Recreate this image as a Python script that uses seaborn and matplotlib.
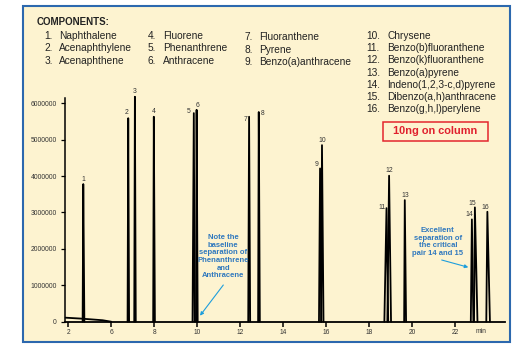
import matplotlib
matplotlib.use("Agg")
import matplotlib.pyplot as plt
from matplotlib.patches import Rectangle
import numpy as np
import pandas as pd
import seaborn as sns

# ---------------- data ----------------
peak_ids = ["1", "2", "3", "4", "5", "6", "7", "8", "9", "10",
            "11", "12", "13", "14", "15", "16"]
peak_time = [4.70, 6.79, 7.10, 7.98, 9.84, 9.97, 12.41, 12.86, 15.71, 15.80,
             18.80, 18.92, 19.65, 22.77, 22.91, 23.49]
peak_height = [3.78e6, 5.59e6, 6.18e6, 5.63e6, 5.73e6, 5.82e6, 5.63e6, 5.76e6,
               4.21e6, 4.85e6, 3.12e6, 4.01e6, 3.34e6, 2.81e6, 3.14e6, 3.02e6]
peak_start = [4.67, 6.76, 7.07, 7.95, 9.78, 9.94, 12.37, 12.83, 15.66, 15.76,
              18.70, 18.84, 19.62, 22.72, 22.87, 23.44]
peak_end = [4.75, 6.83, 7.14, 8.03, 9.88, 10.02, 12.46, 12.91, 15.77, 15.87,
            18.88, 19.01, 19.71, 22.84, 23.03, 23.61]
baseline_time = [3.88, 4.60, 5.60, 6.00]
baseline_signal = [110000, 85000, 40000, 0]

components_1 = ["Naphthalene", "Acenaphthylene", "Acenaphthene"]
components_2 = ["Fluorene", "Phenanthrene", "Anthracene"]
components_3 = ["Fluoranthene", "Pyrene", "Benzo(a)anthracene"]
components_4 = ["Chrysene", "Benzo(b)fluoranthene", "Benzo(k)fluoranthene",
                "Benzo(a)pyrene", "Indeno(1,2,3-c,d)pyrene",
                "Dibenzo(a,h)anthracene", "Benzo(g,h,l)perylene"]

x_ticks = [4, 6, 8, 10, 12, 14, 16, 18, 20, 22]
x_tick_labels = ["2", "6", "8", "10", "12", "14", "16", "18", "20", "22"]
y_ticks = [0, 1000000, 2000000, 3000000, 4000000, 5000000, 6000000]

# ---------------- build table ----------------
rows = []
for pid, t0, t, t1, h in zip(peak_ids, peak_start, peak_time, peak_end, peak_height):
    rows += [(pid, t0, 0.0), (pid, t, h), (pid, t1, 0.0)]
for t, s in zip(baseline_time, baseline_signal):
    rows.append(("base", t, s))
df = pd.DataFrame(rows, columns=["peak", "time", "signal"])

# ---------------- figure ----------------
W, H = 520, 344
sns.set_theme(style="white")
plt.rcParams["font.family"] = ["Liberation Sans", "DejaVu Sans"]

fig = plt.figure(figsize=(W / 100, H / 100), dpi=100)
fig.patch.set_facecolor("white")

def fx(x):
    return x / W

def fy(y):
    return 1 - y / H

BG = "#FDF3D0"
panel = Rectangle((fx(23.3), fy(342)), fx(509.5) - fx(23.3), fy(5.7) - fy(342),
                  transform=fig.transFigure, facecolor=BG, edgecolor="#2C68AE",
                  linewidth=1.5, zorder=-5)
fig.patches.append(panel)

ax = fig.add_axes([fx(65), fy(321.7), fx(505) - fx(65), fy(98.3) - fy(321.7)])
ax.set_facecolor("none")
ax.set_zorder(2)

sns.lineplot(data=df, x="time", y="signal", units="peak", estimator=None,
             sort=False, color="black", linewidth=1.3, ax=ax, legend=False)
for ln in ax.lines:
    ln.set_clip_on(False)

ax.set_xlim(3.85, 24.31)
ax.set_ylim(0, 6.137e6)
ax.set_xlabel("")
ax.set_ylabel("")
for s in ["top", "right"]:
    ax.spines[s].set_visible(False)
ax.spines["left"].set_color("black")
ax.spines["left"].set_linewidth(1.1)
ax.spines["bottom"].set_color("black")
ax.spines["bottom"].set_linewidth(1.3)

ax.set_xticks(x_ticks)
ax.set_xticklabels(x_tick_labels)
ax.set_yticks(y_ticks)
ax.set_yticklabels([str(v) for v in y_ticks])
ax.tick_params(axis="x", bottom=True, length=3.6, width=1.1, color="black",
               pad=2.0, labelsize=4.8, labelcolor="#333333")
ax.tick_params(axis="y", left=True, length=2.9, width=0.9, color="black",
               pad=3.0, labelsize=4.9, labelcolor="#333333")

# peak labels (offsets in points)
label_dx = [0, -1.0, 0, 0, -3.6, 0.7, -2.9, 2.9, -2.4, 0, -3.2, 0, 0, -2.2, -1.9, -1.4]
label_dy = [3.4, 4.0, 3.9, 4.1, 1.2, 3.1, -1.9, -1.4, 2.9, 3.6, 0.5, 4.1, 3.6, 3.6, 2.9, 3.2]
for pid, t, h, dx, dy in zip(peak_ids, peak_time, peak_height, label_dx, label_dy):
    ax.annotate(pid, xy=(t, h), xytext=(dx, dy), textcoords="offset points",
                ha="center", va="center", fontsize=4.9, color="#333333",
                annotation_clip=False)

fig.text(fx(475.7), fy(331.7), "min", ha="left", va="center", fontsize=4.8,
         color="#333333")

# components legend
txt_col = "#222222"
fig.text(fx(36.7), fy(22.3), "COMPONENTS:", fontsize=7, fontweight="bold",
         color=txt_col, ha="left", va="center")
cols = [(components_1, 1, 44.3, 59.3, 36.0),
        (components_2, 4, 147.7, 163.3, 36.0),
        (components_3, 7, 244.5, 258.7, 37.5),
        (components_4, 10, 366.0, 387.3, 35.7)]
for names, start, xn, xt, y0 in cols:
    for i, nm in enumerate(names):
        yy = y0 + i * 12.27
        fig.text(fx(xn), fy(yy), f"{start + i}.", fontsize=7.3, color=txt_col,
                 ha="left", va="center")
        fig.text(fx(xt), fy(yy), nm, fontsize=7.3, color=txt_col,
                 ha="left", va="center")

# red box
box = Rectangle((fx(382.7), fy(140.7)), fx(488.3) - fx(382.7), fy(122.3) - fy(140.7),
                transform=fig.transFigure, facecolor="none", edgecolor="#E3262E",
                linewidth=1.1, zorder=3)
fig.patches.append(box)
fig.text(fx(435.5), fy(131.2), "10ng on column", fontsize=7.9, fontweight="bold",
         color="#E0202E", ha="center", va="center")

# blue annotations
blue_txt = "#2F78BE"
blue_arrow = "#1E9EDC"
fig.text(fx(223.3), fy(256.7),
         "Note the\nbaseline\nseparation of\nPhenanthrene\nand\nAnthracene",
         fontsize=5.5, fontweight="bold", color=blue_txt, ha="center",
         va="center", linespacing=1.14)
fig.text(fx(437.8), fy(242.0),
         "Excellent\nseparation of\nthe critical\npair 14 and 15",
         fontsize=5.5, fontweight="bold", color=blue_txt, ha="center",
         va="center", linespacing=1.14)
ax.annotate("", xy=(fx(200), fy(315.7)), xycoords="figure fraction",
            xytext=(fx(223.3), fy(285)), textcoords="figure fraction",
            arrowprops=dict(arrowstyle="-|>", color=blue_arrow, lw=0.8,
                            mutation_scale=5, shrinkA=0, shrinkB=0),
            annotation_clip=False)
ax.annotate("", xy=(fx(468.3), fy(267.3)), xycoords="figure fraction",
            xytext=(fx(441.7), fy(260)), textcoords="figure fraction",
            arrowprops=dict(arrowstyle="-|>", color=blue_arrow, lw=0.8,
                            mutation_scale=5, shrinkA=0, shrinkB=0),
            annotation_clip=False)

fig.savefig("out.png", dpi=100, facecolor="white")
